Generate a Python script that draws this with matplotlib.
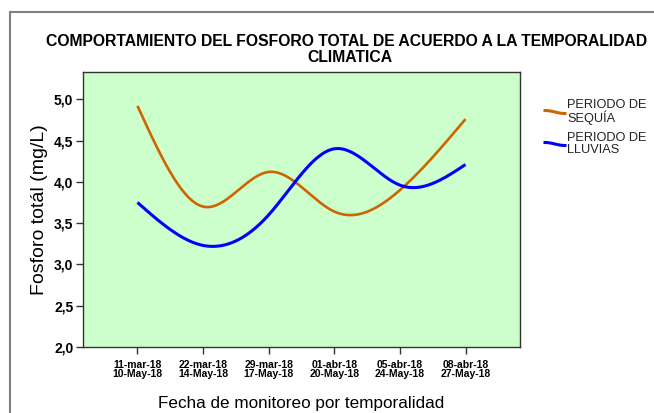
import numpy as np
import matplotlib.pyplot as plt
from matplotlib.patches import Rectangle
from matplotlib.lines import Line2D

# datos
fechas = ['11-mar-18\n10-May-18', '22-mar-18\n14-May-18', '29-mar-18\n17-May-18',
          '01-abr-18\n20-May-18', '05-abr-18\n24-May-18', '08-abr-18\n27-May-18']
sequia = [4.92, 3.70, 4.12, 3.64, 3.90, 4.76]
lluvias = [3.75, 3.23, 3.60, 4.40, 3.96, 4.21]
yticks = [2.0, 2.5, 3.0, 3.5, 4.0, 4.5, 5.0]


def spline(y, n=300):
    # spline cubico natural para suavizar la linea entre los puntos
    y = np.asarray(y, float)
    k = len(y)
    A = np.zeros((k, k))
    b = np.zeros(k)
    A[0, 0] = A[-1, -1] = 1
    for i in range(1, k - 1):
        A[i, i - 1:i + 2] = [1, 4, 1]
        b[i] = 6 * (y[i + 1] - 2 * y[i] + y[i - 1])
    M = np.linalg.solve(A, b)
    xs = np.linspace(0, k - 1, n)
    idx = np.minimum(xs.astype(int), k - 2)
    t = xs - idx
    ys = ((1 - t) * y[idx] + t * y[idx + 1]
          + ((1 - t) ** 3 - (1 - t)) * M[idx] / 6 + (t ** 3 - t) * M[idx + 1] / 6)
    return xs, ys


W, H = 654, 413
fig = plt.figure(figsize=(W / 100, H / 100), dpi=100)
fig.patch.set_facecolor('white')

# marco exterior
fig.add_artist(Rectangle((10 / W, -0.1), 1.2, 1.1 - 12 / H, transform=fig.transFigure,
                         fill=False, edgecolor='#808080', linewidth=1.5))

ax = fig.add_axes([83 / W, 1 - 347 / H, (520 - 83) / W, (347 - 72) / H])
ax.set_facecolor('#CCFFCC')

c_seq = '#CC6600'
c_llu = '#0000FF'
xs, ys = spline(sequia)
ax.plot(xs, ys, color=c_seq, linewidth=1.9, solid_capstyle='butt')
xs, ys = spline(lluvias)
ax.plot(xs, ys, color=c_llu, linewidth=2.2, solid_capstyle='butt')

ax.set_xlim(-0.83, 5.83)
ax.set_ylim(2.0, 5.33)
ax.set_xticks(range(len(fechas)))
ax.set_xticklabels(fechas, fontsize=7.5, fontweight='bold', family='Liberation Sans',
                   linespacing=0.95)
ax.set_yticks(yticks)
ax.set_yticklabels([f'{v:.1f}'.replace('.', ',') for v in yticks], fontsize=10,
                   fontweight='bold', family='Liberation Sans')
ax.tick_params(direction='out', length=5, width=1, color='#333333', pad=2)
ax.tick_params(axis='x', pad=4)
for s in ax.spines.values():
    s.set_color('#333333')
    s.set_linewidth(1)

ax.set_ylabel('Fosforo totál (mg/L)', fontsize=14, family='Liberation Sans', labelpad=4)
ax.set_xlabel('Fecha de monitoreo por temporalidad', fontsize=12.3, family='Liberation Sans',
              labelpad=12)

# titulo en dos lineas
fig.text(347 / W, 1 - 42 / H, 'COMPORTAMIENTO DEL FOSFORO TOTAL DE ACUERDO A LA TEMPORALIDAD',
         ha='center', va='center', fontsize=11.3, fontweight='bold', family='Liberation Sans')
fig.text(350 / W, 1 - 58 / H, 'CLIMATICA',
         ha='center', va='center', fontsize=11.3, fontweight='bold', family='Liberation Sans')

# leyenda manual
for yy, col, txt in [(112, c_seq, 'PERIODO DE\nSEQUÍA'), (144, c_llu, 'PERIODO DE\nLLUVIAS')]:
    lx = np.linspace(545, 565, 20)
    ly = yy - 1.5 * np.cos((lx - 545) / 20 * np.pi)
    fig.add_artist(Line2D(lx / W, 1 - ly / H, color=col, linewidth=2.2,
                          transform=fig.transFigure))
    fig.text(567 / W, 1 - yy / H, txt, ha='left', va='center', fontsize=9.2,
             family='Liberation Sans', linespacing=0.95, color='#222222')

plt.savefig('out.png', dpi=100)
